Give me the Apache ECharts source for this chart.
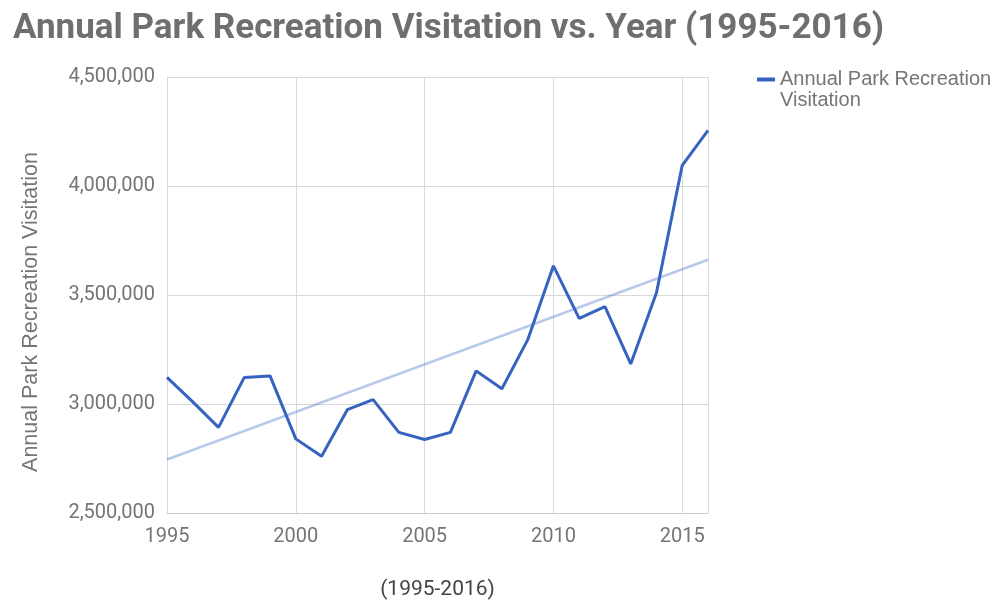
<!DOCTYPE html>
<html>
<head>
<meta charset="utf-8">
<script src="https://cdn.jsdelivr.net/npm/echarts@6/dist/echarts.min.js"></script>
<style>
  html, body { margin: 0; padding: 0; background: #fff; }
  #chart { width: 1004px; height: 600px; }
</style>
</head>
<body>
<div id="chart"></div>
<script>
// Annual park recreation visits, 1995-2016
const years = [1995, 1996, 1997, 1998, 1999, 2000, 2001, 2002, 2003, 2004, 2005,
               2006, 2007, 2008, 2009, 2010, 2011, 2012, 2013, 2014, 2015, 2016];
const visits = [3122000, 3010000, 2893000, 3122000, 3129000, 2840000, 2760000, 2974000,
                3020000, 2870000, 2837000, 2870000, 3152000, 3070000, 3294000, 3634000,
                3393000, 3447000, 3184000, 3510000, 4095000, 4255000];
const yTicks = [2500000, 3000000, 3500000, 4000000, 4500000];
const xTicks = [1995, 2000, 2005, 2010, 2015];

const seriesName = 'Annual Park Recreation Visitation';

// Least-squares linear trend through the yearly values
function linearTrend(xs, ys) {
  const n = xs.length;
  const mx = xs.reduce((a, b) => a + b, 0) / n;
  const my = ys.reduce((a, b) => a + b, 0) / n;
  let sxy = 0, sxx = 0;
  for (let i = 0; i < n; i++) {
    sxy += (xs[i] - mx) * (ys[i] - my);
    sxx += (xs[i] - mx) * (xs[i] - mx);
  }
  const slope = sxy / sxx;
  const icpt = my - slope * mx;
  return [[xs[0], icpt + slope * xs[0]], [xs[n - 1], icpt + slope * xs[n - 1]]];
}

const lineData = years.map((y, i) => [y, visits[i]]);
const trendData = linearTrend(years, visits);

const grey = '#757575';
const lineBlue = '#3763c0';
const roboto = 'Roboto, "Noto Sans", sans-serif';
const sans = '"Liberation Sans", Arial, sans-serif';
const fmt = v => v.toString().replace(/\B(?=(\d{3})+(?!\d))/g, ',');

const chart = echarts.init(document.getElementById('chart'), null, { renderer: 'canvas' });
chart.setOption({
  animation: false,
  textStyle: { fontFamily: roboto },
  title: {
    text: 'Annual Park Recreation Visitation vs. Year (1995-2016)',
    left: 8,
    top: 7,
    textStyle: { fontFamily: roboto, fontSize: 35, fontWeight: 'bold', color: '#6f6f6f' }
  },
  legend: {
    data: [seriesName],
    left: 757,
    top: 48,
    padding: 0,
    icon: 'rect',
    itemWidth: 18,
    itemHeight: 4,
    // leading blank line keeps the first text line level with the icon
    formatter: () => '\nAnnual Park Recreation\nVisitation',
    textStyle: { fontFamily: sans, fontSize: 20, color: grey, lineHeight: 21 }
  },
  grid: { left: 167, right: 296, top: 77, bottom: 87, containLabel: false, outerBoundsMode: 'none' },
  xAxis: {
    type: 'value',
    min: 1995,
    max: 2016,
    interval: 5,
    name: '(1995-2016)',
    nameLocation: 'middle',
    nameGap: 66,
    nameTextStyle: { fontSize: 21, color: '#444444', fontFamily: roboto },
    axisLine: { show: true, lineStyle: { color: '#cccccc', width: 1 } },
    axisTick: { show: false },
    axisLabel: {
      color: grey, fontSize: 20, margin: 14, showMaxLabel: false,
      formatter: v => (xTicks.includes(v) ? String(v) : '')
    },
    splitLine: { show: true, lineStyle: { color: '#d9d9d9', width: 1 } }
  },
  yAxis: {
    type: 'value',
    min: yTicks[0],
    max: yTicks[yTicks.length - 1],
    interval: 500000,
    name: seriesName,
    nameLocation: 'middle',
    nameGap: 125,
    nameTextStyle: { fontFamily: sans, fontSize: 21.5, color: grey, padding: [0, 34, 0, 0] },
    axisLine: { show: false },
    axisTick: { show: false },
    axisLabel: { color: grey, fontSize: 20, margin: 12, formatter: fmt },
    splitLine: { show: true, lineStyle: { color: '#d9d9d9', width: 1 } }
  },
  series: [
    {
      name: seriesName,
      type: 'line',
      data: lineData,
      symbol: 'none',
      lineStyle: { color: lineBlue, width: 3 },
      itemStyle: { color: lineBlue },
      z: 3
    },
    {
      name: 'trend',
      type: 'line',
      data: trendData,
      symbol: 'none',
      silent: true,
      lineStyle: { color: lineBlue, width: 2.5, opacity: 0.35 },
      z: 2
    }
  ]
});
</script>
</body>
</html>
